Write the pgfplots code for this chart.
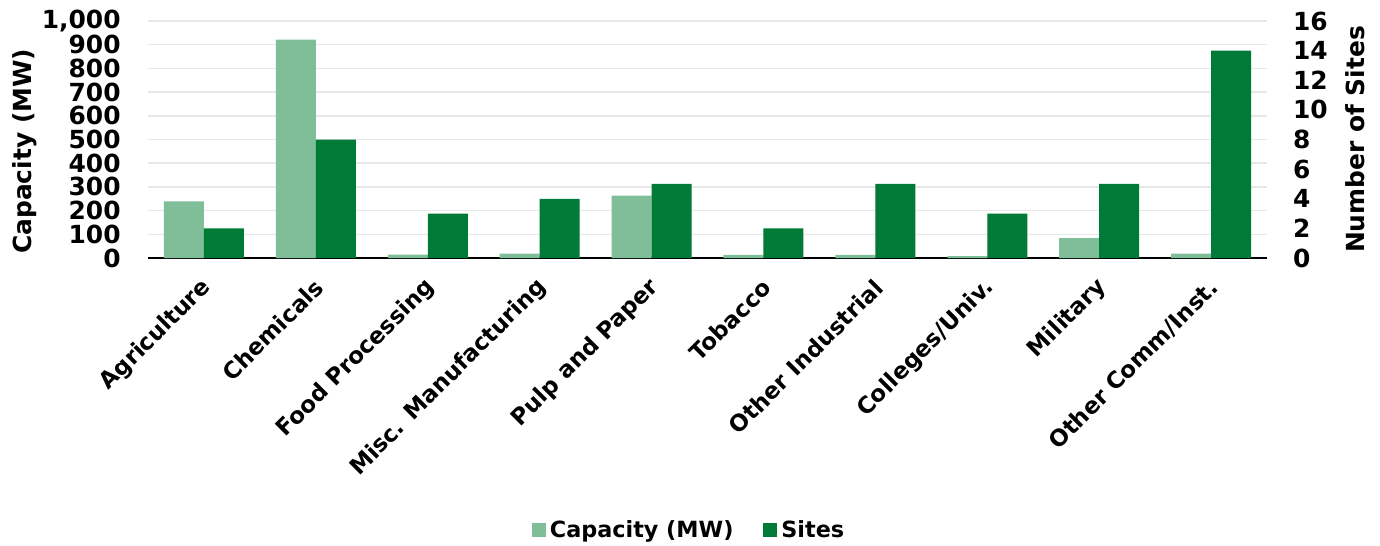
\documentclass[border=0pt]{standalone}
\usepackage{pgfplots}
\pgfplotsset{compat=1.18}
\usepackage{fontspec}
\setmainfont{DejaVu Sans}
\definecolor{capgreen}{RGB}{128,189,153}
\definecolor{sitegreen}{RGB}{0,122,55}
\definecolor{gridgray}{RGB}{232,232,232}
\newcommand{\chartfont}{\fontsize{12.5}{12.5}\selectfont\bfseries}

\pgfplotsset{
  base/.style={
    scale only axis, width=559.5bp, height=118.5bp,
    xmin=-0.5, xmax=9.5,
    ybar, bar width=20bp,
    major tick length=0pt,
    tick label style={font=\chartfont},
    label style={font=\chartfont},
    /pgf/number format/assume math mode=true,
    /pgf/number format/1000 sep={,},
  }
}

\begin{document}
\begin{tikzpicture}
\begin{axis}[base,
    ymin=0, ymax=1000, ytick={0,100,...,1000},
    ymajorgrids, grid style={gridgray, line width=0.75bp},
    axis lines=left, axis line style={-},
    x axis line style={black, line width=0.75bp},
    y axis line style={draw=none},
    xtick={0,...,9},
    xticklabels={Agriculture, Chemicals, Food Processing, Misc. Manufacturing,
      Pulp and Paper, Tobacco, Other Industrial, Colleges/Univ., Military,
      Other Comm/Inst.},
    xticklabel style={font=\fontsize{11.5}{11.5}\selectfont\bfseries,
      rotate=45, anchor=east, inner sep=0pt, xshift=-7.75bp, yshift=-10.25bp},
    yticklabel style={anchor=east, inner sep=0pt, xshift=-13.5bp},
    ylabel={Capacity (MW)},
    ylabel style={at={(axis description cs:-0.11,0.45)}, anchor=center, rotate=0},
    legend style={at={(0.4844,-1.148)}, anchor=center, draw=none, fill=none,
      legend columns=2, font=\fontsize{11.2}{11.2}\selectfont\bfseries,
      /tikz/every even column/.append style={column sep=13bp}},
    legend image code/.code={\fill[#1] (-1bp,-3.5bp) rectangle (6bp,3.5bp);},
]
\addplot[fill=capgreen, draw=none, bar shift=-10bp] coordinates {
  (0,239) (1,921) (2,14) (3,18) (4,263) (5,13) (6,13) (7,8) (8,84) (9,19)};
\addlegendentry{Capacity (MW)}
\addlegendimage{fill=sitegreen, draw=none}
\addlegendentry{Sites}
\end{axis}
\begin{axis}[base,
    ymin=0, ymax=16, ytick={0,2,...,16},
    hide x axis,
    axis y line*=right, y axis line style={draw=none},
    yticklabel style={anchor=west, inner sep=0pt, xshift=12.8bp},
    ylabel={Number of Sites},
    ylabel style={at={(axis description cs:1.0786,0.5)}, anchor=center, rotate=0},
]
\addplot[fill=sitegreen, draw=none, bar shift=10bp] coordinates {
  (0,2) (1,8) (2,3) (3,4) (4,5) (5,2) (6,5) (7,3) (8,5) (9,14)};
\end{axis}
\pgfresetboundingbox
\path (-74bp,-144bp) rectangle (616bp,129bp);
\end{tikzpicture}
\end{document}
